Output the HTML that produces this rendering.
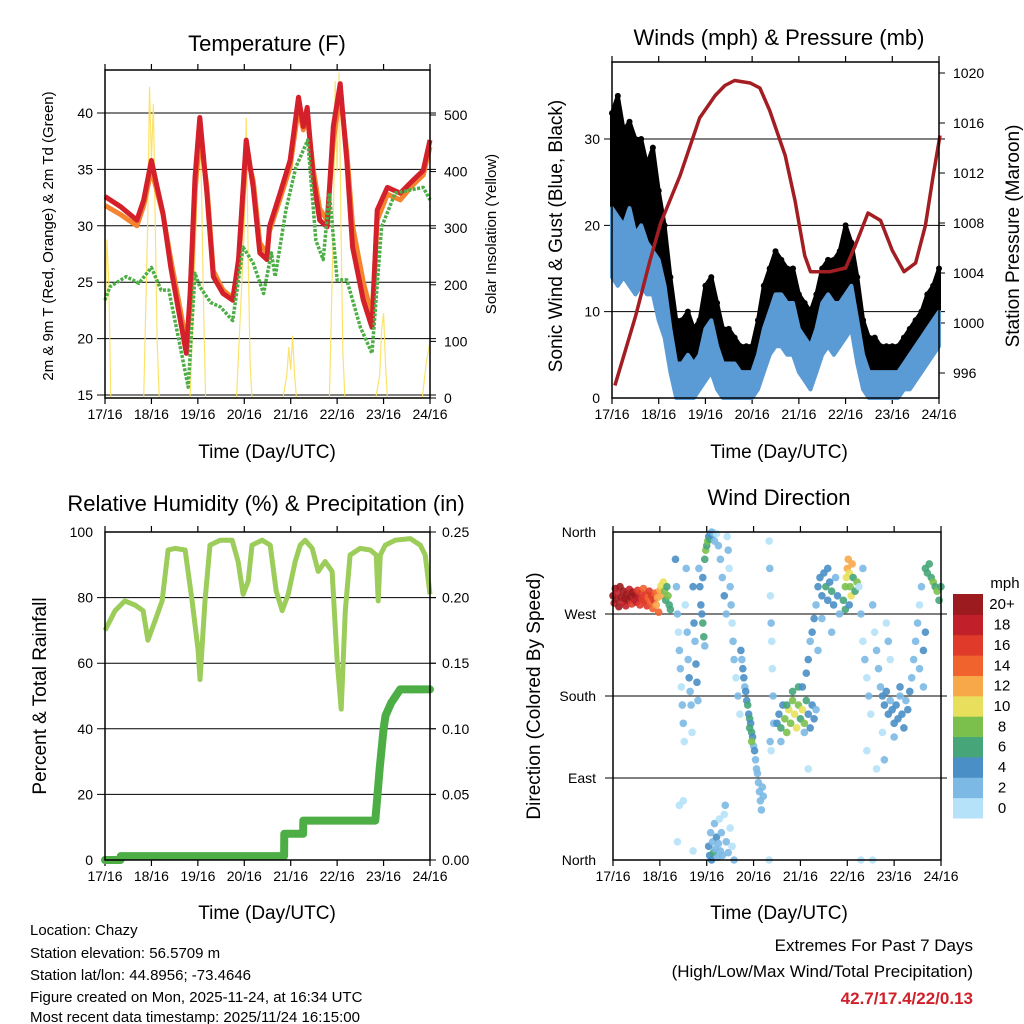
<!DOCTYPE html>
<html><head><meta charset="utf-8">
<style>
html,body{margin:0;padding:0;background:#fff;}
svg{display:block;font-family:"Liberation Sans",sans-serif;}
</style></head>
<body>
<svg id="fig" width="1024" height="1024" viewBox="0 0 1024 1024" xmlns="http://www.w3.org/2000/svg">
<rect width="1024" height="1024" fill="#fff"/>
<g id="layer"></g>
<text x="267" y="51" font-size="22" text-anchor="middle">Temperature (F)</text>
<text transform="translate(53,236) rotate(-90)" font-size="15" text-anchor="middle">2m &amp; 9m T (Red, Orange) &amp; 2m Td (Green)</text>
<text transform="translate(496,234) rotate(-90)" font-size="15" text-anchor="middle">Solar Insolation (Yellow)</text>
<text x="267" y="458" font-size="19" text-anchor="middle">Time (Day/UTC)</text>

<text x="779" y="45" font-size="22" text-anchor="middle">Winds (mph) &amp; Pressure (mb)</text>
<text transform="translate(562,236) rotate(-90)" font-size="19" text-anchor="middle">Sonic Wind &amp; Gust (Blue, Black)</text>
<text transform="translate(1019,236) rotate(-90)" font-size="19" text-anchor="middle">Station Pressure (Maroon)</text>
<text x="779" y="458" font-size="19" text-anchor="middle">Time (Day/UTC)</text>

<text x="266" y="511" font-size="22" text-anchor="middle">Relative Humidity (%) &amp; Precipitation (in)</text>
<text transform="translate(46,696) rotate(-90)" font-size="19" text-anchor="middle">Percent &amp; Total Rainfall</text>
<text x="267" y="919" font-size="19" text-anchor="middle">Time (Day/UTC)</text>

<text x="779" y="505" font-size="22" text-anchor="middle">Wind Direction</text>
<text transform="translate(540,696) rotate(-90)" font-size="19" text-anchor="middle">Direction (Colored By Speed)</text>
<text x="779" y="919" font-size="19" text-anchor="middle">Time (Day/UTC)</text>
<text x="1005" y="588" font-size="15" text-anchor="middle">mph</text>

<g font-size="15">
<text x="30" y="935">Location: Chazy</text>
<text x="30" y="958">Station elevation: 56.5709 m</text>
<text x="30" y="980">Station lat/lon: 44.8956; -73.4646</text>
<text x="30" y="1002">Figure created on Mon, 2025-11-24, at 16:34 UTC</text>
<text x="30" y="1024" dy="-2">Most recent data timestamp: 2025/11/24 16:15:00</text>
</g>
<text x="973" y="951" font-size="17" text-anchor="end">Extremes For Past 7 Days</text>
<text x="973" y="977" font-size="17" text-anchor="end">(High/Low/Max Wind/Total Precipitation)</text>
<text x="973" y="1004" font-size="17" font-weight="bold" fill="#d0202a" text-anchor="end">42.7/17.4/22/0.13</text>
</svg>
<script>
// ---------- DATA ----------
const dayLabels = ["17/16","18/16","19/16","20/16","21/16","22/16","23/16","24/16"];
const tempTicks = [15,20,25,30,35,40];
const solarTicks = [0,100,200,300,400,500];
const windTicks = [0,10,20,30];
const pressTicks = [996,1000,1004,1008,1012,1016,1020];
const rhTicks = [0,20,40,60,80,100];
const precTicks = ["0.00","0.05","0.10","0.15","0.20","0.25"];
const dirTicks = ["North","East","South","West","North"];
const speedLevels = ["0","2","4","6","8","10","12","14","16","18","20+"];

const tempHours = [0,8,16.5,20,24,27,30,34,39,42,44,46.5,49,52.7,56,61,66,69,73,76.6,80,83.7,85,90.5,95.7,100,102.5,104.5,107.6,111,114.8,118,121.6,125,128,133.5,138,140.7,146,152.6,159,164.5,168];
const tempRed = [32.6,31.7,30.5,32.3,35.8,33.4,31.1,26.3,21.6,18.7,24,34.3,39.6,32.9,25.5,24,23.4,27,37.6,33.4,27.6,27,29.9,32.9,35.8,41.4,38.8,40.5,34.3,30.5,29.9,38.8,42.6,35.8,28.1,23.4,21,31.4,33.4,32.9,34,34.9,37.6];
const tempOrange = [31.8,31.0,30.0,31.8,35.0,33.0,31.0,27.0,22.5,19.5,23.0,33.0,38.0,33.5,26.0,24.3,23.6,26.5,36.5,34.0,28.5,27.5,29.5,32.4,35.2,40.5,38.5,39.8,35.0,31.5,30.5,37.5,41.8,36.5,30.0,25.0,22.0,30.5,32.8,32.3,33.6,34.5,37.0];
const dewHours = [0,2.6,11,17.5,24,29,33,38.5,43,46.5,49,54.6,59.7,66,71.4,76.6,82,86,88,93.5,98.7,104.8,109,112.8,116,120,125,132,138,143,150,158.5,164.5,168];
const dewGreen = [23.4,24.6,25.5,24.9,26.3,24.3,24.3,19.6,15.7,25.8,24.6,23.2,22.8,21.6,28.1,26.7,24,27.6,25.5,31.4,35.2,37.6,28.7,27,32.9,25.2,25.2,21,18.7,29.9,32.9,33.2,33.4,32.3];
const solarHours = [0,1,2,3,20,22,23,24,25,26,27,28,44,46,48,49,50,51,52,68,70,72,73,74,75,76,92,94,95,96,97,98,99,116,118,119,120,121,122,123,124,140,142,143,144,145,146,164,166,168];
const solarVals = [120,280,200,0,0,300,550,420,520,300,100,0,0,200,400,490,350,150,0,0,150,300,495,250,60,0,0,40,90,50,110,40,0,0,300,560,400,575,300,80,0,0,40,120,150,60,0,0,60,100];

const windHours = [0,3,6,9,12,15,18,21,24,27,30,33,36,39,42,45,48,51,54,57,60,63,66,69,72,75,78,81,84,87,90,93,96,99,102,105,108,111,114,117,120,123,126,129,132,135,138,141,144,147,150,153,156,159,162,165,168];
const windLo = [14,13,14,13,12,13,12,12,9,7,3,0,0,0,0,1,2,3,1,0,0,0,0,0,0,1,3,5,6,6,5,5,3,2,1,3,5,6,5,6,7,8,4,1,0,0,0,0,0,0,1,1,2,3,4,5,6];
const windHi = [22,21,20,22,19,20,18,17,16,13,8,4,4,5,4,5,8,9,6,4,4,4,3,3,3,5,8,10,12,12,11,11,8,7,6,8,11,12,11,11,12,13,9,5,3,3,3,3,3,3,4,5,6,7,8,9,10];
const gustLo = [22,20,21,20,19,19,18,17,14,11,6,2,1,1,2,3,5,6,4,2,2,2,1,1,2,3,6,8,10,10,9,9,6,5,4,6,9,10,9,10,11,12,8,3,1,1,1,1,1,2,3,4,5,5,6,7,8];
const gustHi = [33,35,31,32,30,30,27,29,24,20,14,9,9,10,8,9,13,14,11,8,8,7,6,6,6,9,13,15,17,16,15,15,12,11,10,12,15,16,16,17,20,18,14,9,7,7,6,6,6,6,7,8,9,10,12,13,15];
const pressHours = [1.5,12,19.5,25,35,45,53,58,63,71,76,81,89,94,99,102,112,120,125,131.5,138,144,150,156,161,165,168.5];
const pressVals = [995.0,1000.5,1005,1008,1011.8,1016.4,1018.2,1019,1019.4,1019.2,1018.8,1017,1013.4,1009.8,1005.4,1004.1,1004.1,1004.4,1006.2,1008.8,1008.2,1005.8,1004.1,1004.8,1007.8,1011.8,1015];

const rhHours = [0,5.2,10.3,15.5,19.7,22.2,25.9,29.5,32.6,36.2,41.4,45,48.1,49.1,51.7,54.3,59.5,65.7,68.8,71.4,74,76,81.2,85.4,88.5,91.6,94.7,98.3,100.9,103.5,107.1,110.2,113.8,117.4,120,122.1,124.2,126.7,131.9,137.1,140.2,141.2,142.3,144.9,150,157.8,163,165.5,168];
const rhVals = [70,76,79,77.7,76,67,73,79,94.5,95,94.5,79,64,55,79,96,97.5,97.5,91,81,85,96,97.5,96,82,76,81,91,96,97.5,95,88,91,88,61,46,76,93,95,94.5,93,79,93,96,97.5,98,96,93,81];
const precHours = [0,8,8.1,92.6,92.7,102.4,102.5,139.7,142,144,145,148,152.6,168];
const precVals = [0,0,0.003,0.003,0.02,0.02,0.03,0.03,0.07,0.1,0.11,0.12,0.13,0.13];

// [hour, direction (deg), speed (mph)]
const windDirObs = [
[0,290,20],[0.6,282,18],[1.2,298,20],[1.8,286,22],[2.4,293,18],[3,278,20],[3.6,300,20],[4.2,288,22],[4.8,283,18],[5.4,295,20],[6,287,22],[6.6,279,18],[7.2,292,20],[7.8,285,22],[8.4,297,18],[9,289,20],[9.6,281,16],[10.2,294,20],[10.8,286,18],[11.4,291,22],[12,283,18],[12.6,296,16],[13.2,288,18],[13.8,280,16],[14.4,293,16],[15,286,16],[15.6,298,14],[16.2,284,16],[16.8,291,16],[17.4,279,16],[18,288,14],[18.6,295,16],[19.2,283,14],[19.8,290,16],[20.4,276,14],[21,285,16],[21.6,293,14],[22.2,280,12],[22.8,288,12],[23.4,272,14],[24,296,12],[24.6,301,10],[25.2,290,12],
[25.8,305,10],[26.4,295,8],[27,285,6],[27.6,300,6],[28.2,290,8],[28.8,280,6],[29.4,275,6],
[32,330,4],[32.5,300,2],[33,270,2],[33.5,250,0],[34,230,2],[34.5,210,2],[35,190,0],[35.5,170,2],[36,150,2],[36.5,130,0],[37,280,0],[37.5,320,2],[38,250,2],[38.5,220,2],[39,200,4],[39.5,185,2],[40,170,2],[40.5,140,0],[41,300,4],[41.5,260,4],[42,240,2],[42.5,215,4],[43,195,4],[43.5,175,2],[34,60,0],[36,65,0],[33,20,0],[41,10,0],
[44,320,2],[44.5,300,4],[45,280,4],[45.5,270,4],[46,260,6],[46.5,245,6],[47,330,6],[47.5,340,8],[48,345,6],[48.5,350,8],[49,355,4],[49.5,352,6],[50,358,4],[50.5,360,2],[51,356,4],[51.5,359,2],[52,350,2],[53,358,0],[54,345,2],[55,330,2],[56,310,2],[57,290,4],[58,270,2],[46,310,4],[47,235,2],
[49,15,4],[49.5,5,4],[50,30,2],[50.5,0,4],[51,20,2],[51.5,8,6],[52,40,2],[52.5,12,2],[53,25,4],[53.5,3,2],[54,18,2],[54.5,45,0],[55,10,2],[55.5,30,2],[56,5,2],[57,50,0],[58,20,2],[59,8,2],[60,35,0],[61,15,0],[62,0,2],[57.5,60,2],
[58.5,355,0],[59,340,2],[59.5,320,0],[60,300,2],[60.5,280,2],[61,260,0],[61.5,240,2],[62,220,2],[63,200,0],[64,180,2],[65,160,0],
[65.5,230,4],[66,220,2],[66.5,210,4],[67,200,4],[67.5,190,2],[68,185,4],[68.5,175,4],[69,170,6],[69.5,160,4],[70,155,6],[70.5,150,4],[71,140,6],[71.5,135,4],[72,125,2],[72.5,120,4],[73,110,2],[73.5,100,2],[74,95,2],[74.5,85,2],[75,75,2],[75.5,65,2],[76,55,2],[76.5,80,2],[77,70,2],[70,145,6],[71,130,8],
[80,350,0],[80.3,320,2],[80.6,290,0],[81,260,2],[81.3,240,0],[81.6,210,0],[82,180,2],[82.3,150,2],[81,120,0],[80.5,130,2],[80,0,0],
[84,150,4],[85,160,4],[86,145,6],[87,170,4],[88,155,8],[89,140,8],[90,165,10],[91,150,8],[92,175,8],[93,160,10],[94,145,10],[95,170,8],[96,155,6],[97,165,10],[98,150,8],[99,175,6],[100,160,4],[101,145,4],[102,170,4],[103,155,4],[104,165,2],[92,185,6],[95,190,6],[89,170,6],[98,140,2],[86,130,2],
[97,190,4],[99,205,4],[100,220,4],[101,240,2],[102,250,4],[103,265,4],[104,280,2],[105,230,2],[100,100,0],
[105,300,4],[106,310,4],[107,290,4],[108,315,4],[109,300,6],[110,285,4],[111,305,4],[112,295,6],[113,280,4],[114,310,2],[115,290,4],[116,270,2],[107,265,2],[110,320,4],[112,250,2],
[118,285,6],[119,300,8],[119.5,310,10],[120,320,12],[120.5,330,12],[121,315,10],[121.5,300,8],[122,290,10],[122.5,325,12],[123,310,6],[124,295,6],[125,305,8],[119,275,6],[121,280,4],
[126,300,0],[127,270,2],[128,240,0],[129,220,2],[130,200,0],[131,180,2],[132,160,0],[133,280,2],[134,250,0],[135,230,2],[136,210,2],[137,190,2],[138,140,0],[139,110,2],[140,260,0],[141,240,2],[142,220,0],[128,320,2],[130,120,0],[135,100,0],[133,0,0],[127,0,0],
[138,180,4],[139,170,4],[140,185,4],[141,160,4],[142,175,2],[143,165,4],[144,150,4],[145,170,4],[146,155,4],[147,180,2],[148,160,4],[149,145,4],[150,175,2],[151,165,4],[152,185,4],[153,200,2],[154,220,2],[144,135,2],[147,190,4],
[155,240,2],[156,260,2],[157,280,0],[158,300,2],[159,230,4],[160,320,6],[161,315,6],[162,325,6],[163,310,6],[164,305,8],[165,300,6],[166,295,8],[167,285,6],[168,300,6],[157,210,2],[159,190,2],[160,250,4]
];
const speedColors = ["#b5e2f8","#7cb9e4","#4a8fc6","#46a67a","#7bc04c","#e8e05c","#f7a94a","#f0632d","#e03a2b","#c1202a","#9b1b1e"];

// ---------- DRAWING ----------
const NS = "http://www.w3.org/2000/svg";
const layer = document.getElementById("layer");
function el(tag, attrs, parent) {
  const e = document.createElementNS(NS, tag);
  for (const k in attrs) e.setAttribute(k, attrs[k]);
  (parent || layer).appendChild(e);
  return e;
}
function lin(d0, d1, r0, r1) { return v => r0 + (v - d0) * (r1 - r0) / (d1 - d0); }
function pts(xs, ys, fx, fy) { return xs.map((h, i) => fx(h).toFixed(1) + "," + fy(ys[i]).toFixed(1)).join(" "); }

function frame(g, L, T, R, B, name) {
  const f = el("rect", {x:L, y:T, width:R-L, height:B-T, fill:"none", stroke:"#000", "stroke-width":1.5}, g);
  
  
}
function xAxis(g, L, R, T, B, name) {
  const fx = lin(0, 168, L, R);
  dayLabels.forEach((d, i) => {
    const x = fx(i * 24);
    el("line", {x1:x, y1:B, x2:x, y2:B+6, stroke:"#000", "stroke-width":1.2}, g);
    el("line", {x1:x, y1:T, x2:x, y2:T-6, stroke:"#000", "stroke-width":1.2}, g);
    const t = el("text", {x:x, y:B+21, "font-size":14, "text-anchor":"middle"}, g);
    t.textContent = d;
    
    
  });
  return fx;
}
function hGrid(g, L, R, y) {
  el("line", {x1:L-8, y1:y, x2:R+6, y2:y, stroke:"#000", "stroke-width":1}, g);
}
function tickLabel(g, x, y, txt, anchor, name) {
  const t = el("text", {x:x, y:y+5, "font-size":14, "text-anchor":anchor}, g);
  t.textContent = txt;
  
  
}

// ===== Panel 1: Temperature =====
(function(){
  const L=105,R=430,T=70,B=398;
  const g = el("g", {});
  
  
  const fx = xAxis(g, L, R, T, B, "temperature");
  const fy = lin(15, 40, 395, 113);
  const fs = lin(0, 500, 398, 115);
  tempTicks.forEach(v => { hGrid(g, L, R, fy(v)); tickLabel(g, L-12, fy(v), String(v), "end", "temperature-y-tick-label"); });
  solarTicks.forEach(v => { el("line",{x1:R,y1:fs(v),x2:R+6,y2:fs(v),stroke:"#000"},g); tickLabel(g, R+14, fs(v), String(v), "start", "solar-y-tick-label"); });
  const s = el("polyline", {points:pts(solarHours, solarVals, fx, fs), fill:"none", stroke:"#fbe05a", "stroke-width":1.2, opacity:0.9}, g);
  
  
  const o = el("polyline", {points:pts(tempHours, tempOrange, fx, fy), fill:"none", stroke:"#f5842e", "stroke-width":5, "stroke-linejoin":"round"}, g);
  
  
  const r = el("polyline", {points:pts(tempHours, tempRed, fx, fy), fill:"none", stroke:"#d4202a", "stroke-width":5, "stroke-linejoin":"round"}, g);
  
  
  const d = el("polyline", {points:pts(dewHours, dewGreen, fx, fy), fill:"none", stroke:"#4cae45", "stroke-width":3.5, "stroke-dasharray":"3 1.5", "stroke-linejoin":"round"}, g);
  
  
  frame(g, L, T, R, B, "temperature");
})();

// ===== Panel 2: Winds & Pressure =====
(function(){
  const L=612,R=939,T=62,B=398;
  const g = el("g", {});
  
  
  const fx = xAxis(g, L, R, T, B, "winds");
  const fy = lin(0, 30, 398, 139);
  const fp = lin(1000, 1020, 323, 73);
  windTicks.forEach(v => { if (v>0) hGrid(g, L, R, fy(v)); tickLabel(g, L-12, fy(v), String(v), "end", "wind-y-tick-label"); });
  pressTicks.forEach(v => { el("line",{x1:R,y1:fp(v),x2:R+6,y2:fp(v),stroke:"#000"},g); tickLabel(g, R+14, fp(v), String(v), "start", "pressure-y-tick-label"); });
  const band = (lo, hi, col, name) => {
    const p = pts(windHours, hi, fx, fy) + " " + pts(windHours.slice().reverse(), lo.slice().reverse(), fx, fy);
    const e = el("polygon", {points:p, fill:col, stroke:col, "stroke-width":4, "stroke-linejoin":"round"}, g);
    
    
  };
  band(gustLo, gustHi, "#000", "gust-band");
  windHours.forEach((h, i) => {
    const c = el("circle", {cx:fx(h), cy:fy(gustHi[i]), r:3, fill:"#000"}, g);
    
    
  });
  band(windLo, windHi, "#5b9bd5", "sonic-wind-band");
  const p = el("polyline", {points:pts(pressHours, pressVals, fx, fp), fill:"none", stroke:"#a31e22", "stroke-width":3.5, "stroke-linejoin":"round"}, g);
  
  
  frame(g, L, T, R, B, "winds");
})();

// ===== Panel 3: RH & Precip =====
(function(){
  const L=105,R=430,T=532,B=860;
  const g = el("g", {});
  
  
  const fx = xAxis(g, L, R, T, B, "humidity");
  const fy = lin(0, 100, 860, 532);
  const fp = lin(0, 0.25, 860, 532);
  rhTicks.forEach(v => { if (v>0 && v<100) hGrid(g, L, R, fy(v)); tickLabel(g, L-12, fy(v), String(v), "end", "humidity-y-tick-label"); });
  precTicks.forEach(v => { const y = fp(parseFloat(v)); el("line",{x1:R,y1:y,x2:R+6,y2:y,stroke:"#000"},g); tickLabel(g, R+12, y, v, "start", "precip-y-tick-label"); });
  const rh = el("polyline", {points:pts(rhHours, rhVals, fx, fy), fill:"none", stroke:"#9ccc5a", "stroke-width":5, "stroke-linejoin":"round"}, g);
  
  
  const pr = el("polyline", {points:pts(precHours, precVals, fx, fp), fill:"none", stroke:"#4cae45", "stroke-width":8, "stroke-linejoin":"round", "stroke-linecap":"round"}, g);
  
  
  frame(g, L, T, R, B, "humidity");
})();

// ===== Panel 4: Wind Direction =====
(function(){
  const L=613,R=941,T=532,B=860;
  const g = el("g", {});
  
  
  const fx = xAxis(g, L, R, T, B, "wind-direction");
  const fy = lin(0, 360, 860, 532);
  dirTicks.forEach((d, i) => {
    const y = fy(i * 90);
    if (i>0 && i<4) hGrid(g, L, R, y);
    tickLabel(g, L-17, y, d, "end", "direction-tick-label");
  });
  windDirObs.forEach(o => {
    const idx = Math.min(10, Math.floor(o[2] / 2));
    const c = el("circle", {cx:fx(o[0]), cy:fy(o[1]), r:3.8, fill:speedColors[idx], opacity:0.9}, g);
    
    
  });
  frame(g, L, T, R, B, "wind-direction");
  const cb = el("g", {}, g);
  
  
  const h = (818 - 594) / speedLevels.length;
  speedLevels.forEach((lab, i) => {
    const y = 818 - (i + 1) * h;
    const r = el("rect", {x:953, y:y, width:30, height:h+0.5, fill:speedColors[i]}, cb);
    
    
    const t = el("text", {x:1002, y:y + h/2 + 5, "font-size":15, "text-anchor":"middle"}, cb);
    t.textContent = lab;
    
    
  });
})();
</script>
</body></html>
